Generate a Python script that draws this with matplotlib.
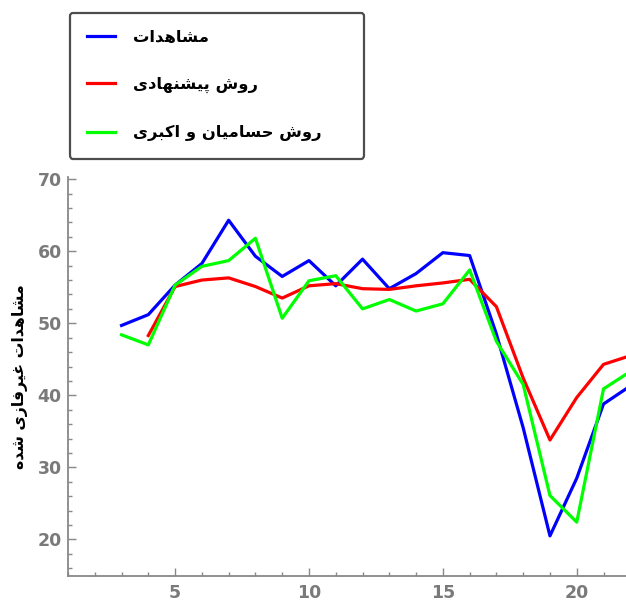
import matplotlib
matplotlib.use("Agg")
import matplotlib.pyplot as plt
from matplotlib.ticker import MultipleLocator

# ---------------- data ----------------
x_obs = [3, 4, 5, 6, 7, 8, 9, 10, 11, 12, 13, 14, 15, 16, 17, 18, 19, 20, 21, 22]
obs = [49.7, 51.2, 55.3, 58.3, 64.3, 59.3, 56.5, 58.7, 55.2, 58.9, 54.8, 56.9,
       59.8, 59.4, 48.5, 35.5, 20.5, 28.5, 38.8, 41.3]

x_prop = [4, 5, 6, 7, 8, 9, 10, 11, 12, 13, 14, 15, 16, 17, 18, 19, 20, 21, 22]
prop = [48.3, 55.1, 56.0, 56.3, 55.1, 53.5, 55.2, 55.5, 54.8, 54.7, 55.2, 55.6,
        56.1, 52.3, 42.4, 33.8, 39.7, 44.3, 45.5]

x_ha = [3, 4, 5, 6, 7, 8, 9, 10, 11, 12, 13, 14, 15, 16, 17, 18, 19, 20, 21, 22]
ha = [48.4, 47.0, 55.3, 57.9, 58.7, 61.8, 50.7, 55.9, 56.6, 52.0, 53.3, 51.7,
      52.7, 57.4, 47.5, 41.5, 26.1, 22.4, 40.9, 43.3]

labels = ["مشاهدات", "روش پیشنهادی", "روش حسامیان و اکبری"]
ylabel = "مشاهدات غیرفازی شده"
xticks = [5, 10, 15, 20]
yticks = [20, 30, 40, 50, 60, 70]

# ------------- simple Persian shaping (matplotlib has no shaping engine) -------------
FORMS = {  # isolated, final, initial, medial
    'ا': ('\uFE8D', '\uFE8E', None, None),
    'ب': ('\uFE8F', '\uFE90', '\uFE91', '\uFE92'),
    'پ': ('\uFB56', '\uFB57', '\uFB58', '\uFB59'),
    'ت': ('\uFE95', '\uFE96', '\uFE97', '\uFE98'),
    'ح': ('\uFEA1', '\uFEA2', '\uFEA3', '\uFEA4'),
    'د': ('\uFEA9', '\uFEAA', None, None),
    'ر': ('\uFEAD', '\uFEAE', None, None),
    'ز': ('\uFEAF', '\uFEB0', None, None),
    'س': ('\uFEB1', '\uFEB2', '\uFEB3', '\uFEB4'),
    'ش': ('\uFEB5', '\uFEB6', '\uFEB7', '\uFEB8'),
    'غ': ('\uFECD', '\uFECE', '\uFECF', '\uFED0'),
    'ف': ('\uFED1', '\uFED2', '\uFED3', '\uFED4'),
    'ق': ('\uFED5', '\uFED6', '\uFED7', '\uFED8'),
    'ک': ('\uFB8E', '\uFB8F', '\uFB90', '\uFB91'),
    'ل': ('\uFEDD', '\uFEDE', '\uFEDF', '\uFEE0'),
    'م': ('\uFEE1', '\uFEE2', '\uFEE3', '\uFEE4'),
    'ن': ('\uFEE5', '\uFEE6', '\uFEE7', '\uFEE8'),
    'ه': ('\uFEE9', '\uFEEA', '\uFEEB', '\uFEEC'),
    'و': ('\uFEED', '\uFEEE', None, None),
    'ی': ('\uFEEF', '\uFEF0', '\uFEF3', '\uFEF4'),
}


def shape(text):
    out = []
    n = len(text)
    for i, ch in enumerate(text):
        if ch not in FORMS:
            out.append(ch)
            continue
        f = FORMS[ch]
        prev = text[i - 1] if i > 0 else None
        nxt = text[i + 1] if i < n - 1 else None
        pj = prev in FORMS and FORMS[prev][2] is not None
        nj = f[2] is not None and nxt in FORMS
        if pj and nj:
            out.append(f[3])
        elif pj:
            out.append(f[1])
        elif nj:
            out.append(f[2])
        else:
            out.append(f[0])
    return ''.join(out)[::-1]


# ---------------- figure ----------------
W, H = 626, 601
fig = plt.figure(figsize=(W / 100, H / 100), dpi=100)
ax = fig.add_axes([68 / W, 25 / H, 558 / W, 399 / H])

lw = 2.3
l1, = ax.plot(x_obs, obs, color='#0000ff', lw=lw, label=shape(labels[0]))
l2, = ax.plot(x_prop, prop, color='#ff0000', lw=lw, label=shape(labels[1]))
l3, = ax.plot(x_ha, ha, color='#00ff00', lw=lw, label=shape(labels[2]))

ax.set_xlim(1.0, 21.84)
ax.set_ylim(14.93, 70.3)

for s in ['top', 'right']:
    ax.spines[s].set_visible(False)
for s in ['left', 'bottom']:
    ax.spines[s].set_color('#888888')
    ax.spines[s].set_linewidth(1.3)

ax.set_xticks(xticks)
ax.set_yticks(yticks)
ax.xaxis.set_minor_locator(MultipleLocator(1))
ax.yaxis.set_minor_locator(MultipleLocator(2))
ax.tick_params(which='both', direction='in', color='#888888', width=1.0,
               labelcolor='#7a7a7a', labelsize=12.5)
ax.tick_params(which='major', length=5.5)
ax.tick_params(which='minor', length=3.0)
ax.tick_params(axis='x', pad=6)
ax.tick_params(axis='y', pad=4.5)
for t in ax.get_xticklabels() + ax.get_yticklabels():
    t.set_fontweight('bold')
    t.set_family('DejaVu Sans')

ax.set_ylabel(shape(ylabel), fontsize=11.3, fontweight='bold', color='black',
              family='DejaVu Sans')
ax.yaxis.set_label_coords(-0.072, 0.5)

leg = fig.legend(handles=[l1, l2, l3], loc='upper left',
                 bbox_to_anchor=(70 / W, 1 - 155 / H, 294 / W, 142 / H),
                 mode='expand', fancybox=True, framealpha=1,
                 prop={'family': 'DejaVu Sans', 'weight': 'bold', 'size': 11.8},
                 handlelength=1.7, handletextpad=1.1, labelspacing=1.95,
                 borderpad=1.05, borderaxespad=0)
leg.get_frame().set_edgecolor('#4d4d4d')
leg.get_frame().set_linewidth(1.6)

fig.savefig('out.png', dpi=100)
